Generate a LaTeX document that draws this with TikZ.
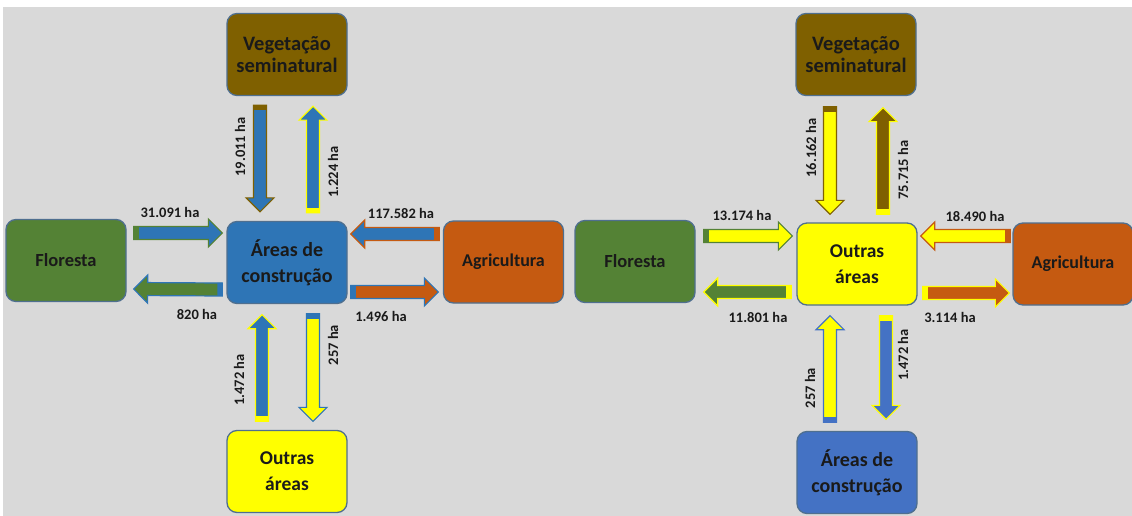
\documentclass[tikz,border=0pt]{standalone}
\usepackage{fontspec}
\setmainfont{Carlito}
\usetikzlibrary{calc}

\definecolor{fundo}{HTML}{D9D9D9}
\definecolor{veg}{HTML}{7F6000}
\definecolor{flo}{HTML}{548235}
\definecolor{areas}{HTML}{2E75B6}
\definecolor{areasb}{HTML}{4472C4}
\definecolor{agr}{HTML}{C55A11}
\definecolor{outras}{HTML}{FFFF00}
\definecolor{borda}{HTML}{4F6F8F}
\definecolor{texto}{HTML}{1A1A1A}

\tikzset{
    caixa/.style={draw=borda, line width=1.3pt, rounded corners=10pt,
        minimum width=120pt, minimum height=82pt, align=center, text=texto,
        font=\bfseries\fontsize{18}{22}\selectfont},
    tam/.style 2 args={font=\bfseries\fontsize{#1}{#2}\selectfont},
    rotulo/.style={text=texto, inner sep=0pt, font=\bfseries\fontsize{14.5}{16}\selectfont},
    % block arrow from start to target
    fluxo/.style={line width=1.2pt, line join=miter, to path={
        ($(\tikztostart)!6.5pt!90:(\tikztotarget)$)
        -- ($(\tikztotarget)!14pt!(\tikztostart)!6.5pt!90:(\tikztotarget)$)
        -- ($(\tikztotarget)!14pt!(\tikztostart)!14pt!90:(\tikztotarget)$)
        -- (\tikztotarget)
        -- ($(\tikztotarget)!14pt!(\tikztostart)!14pt!-90:(\tikztotarget)$)
        -- ($(\tikztotarget)!14pt!(\tikztostart)!6.5pt!-90:(\tikztotarget)$)
        -- ($(\tikztostart)!6.5pt!-90:(\tikztotarget)$) -- cycle}},
    % coloured strip at the tail
    cauda/.style={to path={
        ($(\tikztostart)!6.5pt!90:(\tikztotarget)$)
        -- ($(\tikztostart)!5pt!(\tikztotarget)!6.5pt!90:(\tikztotarget)$)
        -- ($(\tikztostart)!5pt!(\tikztotarget)!6.5pt!-90:(\tikztotarget)$)
        -- ($(\tikztostart)!6.5pt!-90:(\tikztotarget)$) -- cycle}}
}

% \seta{from}{to}{fill}{source colour}
\newcommand{\seta}[4]{%
    \draw[fluxo, fill=#3, draw=#4] (#1) to (#2);
    \fill[cauda, fill=#4] (#1) to (#2);}

\begin{document}
\begin{tikzpicture}[x=1pt, y=-1pt]
    % Background
    \useasboundingbox (0,0) rectangle (1132,516);
    \fill[white] (0,0) rectangle (1132,516);
    \fill[fundo] (3,7) rectangle (1132,516);

    % Left diagram
    \node[caixa, fill=veg, tam={20.5}{22.5}] (veg1) at (287,54.5) {Vegetação\\seminatural};
    \node[caixa, fill=flo, tam={18.5}{22}] (flo1) at (66,260.5) {Floresta};
    \node[caixa, fill=areas, tam={20}{26}] (are1) at (287,262.5) {Áreas de\\construção};
    \node[caixa, fill=agr] (agr1) at (503.5,262) {Agricultura};
    \node[caixa, fill=outras, tam={19.5}{26}] (out1) at (287,471.5) {Outras\\áreas};

    \coordinate (a1) at ($(veg1.south)+(-27,9)$);
    \coordinate (b1) at ($(are1.north)+(-27,-9)$);
    \coordinate (a2) at ($(are1.north)+(26,-8)$);
    \coordinate (b2) at ($(veg1.south)+(26,10)$);
    \coordinate (a3) at ($(flo1.east)+(7,-27.5)$);
    \coordinate (b3) at ($(are1.west)+(-4,-29.5)$);
    \coordinate (a4) at ($(are1.west)+(-4,27)$);
    \coordinate (b4) at ($(flo1.east)+(7,28.5)$);
    \coordinate (a5) at ($(agr1.west)+(-3.5,-28)$);
    \coordinate (b5) at ($(are1.east)+(3,-28.5)$);
    \coordinate (a6) at ($(are1.east)+(3,29.5)$);
    \coordinate (b6) at ($(agr1.west)+(-4.5,30)$);
    \coordinate (a7) at ($(out1.north)+(-25,-8.5)$);
    \coordinate (b7) at ($(are1.south)+(-25,10.5)$);
    \coordinate (a8) at ($(are1.south)+(26,9.5)$);
    \coordinate (b8) at ($(out1.north)+(26,-8.5)$);

    \seta{a1}{b1}{areas}{veg}
    \seta{a2}{b2}{areas}{outras}
    \seta{a3}{b3}{areas}{flo}
    \seta{a4}{b4}{flo}{areas}
    \seta{a5}{b5}{areas}{agr}
    \seta{a6}{b6}{agr}{areas}
    \seta{a7}{b7}{areas}{outras}
    \seta{a8}{b8}{outras}{areas}

    \node[rotulo, rotate=90] (r1) at (240,147) {19.011 ha};
    \node[rotulo, rotate=90] (r2) at (333,172) {1.224 ha};
    \node[rotulo] (r3) at (170,212) {31.091 ha};
    \node[rotulo] (r4) at (197,314) {820 ha};
    \node[rotulo] (r5) at (401,213) {117.582 ha};
    \node[rotulo] (r6) at (381,316) {1.496 ha};
    \node[rotulo, rotate=90] (r7) at (239,380) {1.472 ha};
    \node[rotulo, rotate=90] (r8) at (333,345) {257 ha};

    % Right diagram
    \node[caixa, fill=veg, tam={20.5}{22.5}] (veg2) at (856,54.5) {Vegetação\\seminatural};
    \node[caixa, fill=flo, tam={18.5}{22}] (flo2) at (635,261.5) {Floresta};
    \node[caixa, fill=outras, tam={19.5}{26}] (out2) at (857,264) {Outras\\áreas};
    \node[caixa, fill=agr] (agr2) at (1073,264) {Agricultura};
    \node[caixa, fill=areasb, tam={20}{26}] (are2) at (857,472.5) {Áreas de\\construção};

    \coordinate (c1) at ($(veg2.south)+(-26,10.5)$);
    \coordinate (d1) at ($(out2.north)+(-27,-8)$);
    \coordinate (c2) at ($(out2.north)+(26,-8)$);
    \coordinate (d2) at ($(veg2.south)+(27,11.5)$);
    \coordinate (c3) at ($(flo2.east)+(8,-25.5)$);
    \coordinate (d3) at ($(out2.west)+(-4,-28)$);
    \coordinate (c4) at ($(out2.west)+(-5,28)$);
    \coordinate (d4) at ($(flo2.east)+(8,30.5)$);
    \coordinate (c5) at ($(agr2.west)+(-2,-28)$);
    \coordinate (d5) at ($(out2.east)+(3,-28)$);
    \coordinate (c6) at ($(out2.east)+(5,29)$);
    \coordinate (d6) at ($(agr2.west)+(-3,29)$);
    \coordinate (c7) at ($(are2.north)+(-27,-8.5)$);
    \coordinate (d7) at ($(out2.south)+(-27,10)$);
    \coordinate (c8) at ($(out2.south)+(29,10)$);
    \coordinate (d8) at ($(are2.north)+(29,-11.5)$);

    \seta{c1}{d1}{outras}{veg}
    \seta{c2}{d2}{veg}{outras}
    \seta{c3}{d3}{outras}{flo}
    \seta{c4}{d4}{flo}{outras}
    \seta{c5}{d5}{outras}{agr}
    \seta{c6}{d6}{agr}{outras}
    \seta{c7}{d7}{outras}{areasb}
    \seta{c8}{d8}{areasb}{outras}

    \node[rotulo, rotate=90] (s1) at (811,148) {16.162 ha};
    \node[rotulo, rotate=90] (s2) at (903,170) {75.715 ha};
    \node[rotulo] (s3) at (742,215) {13.174 ha};
    \node[rotulo] (s4) at (758,317) {11.801 ha};
    \node[rotulo] (s5) at (975,216) {18.490 ha};
    \node[rotulo] (s6) at (950,317) {3.114 ha};
    \node[rotulo, rotate=90] (s7) at (810,388) {257 ha};
    \node[rotulo, rotate=90] (s8) at (903,355) {1.472 ha};
\end{tikzpicture}
\end{document}
